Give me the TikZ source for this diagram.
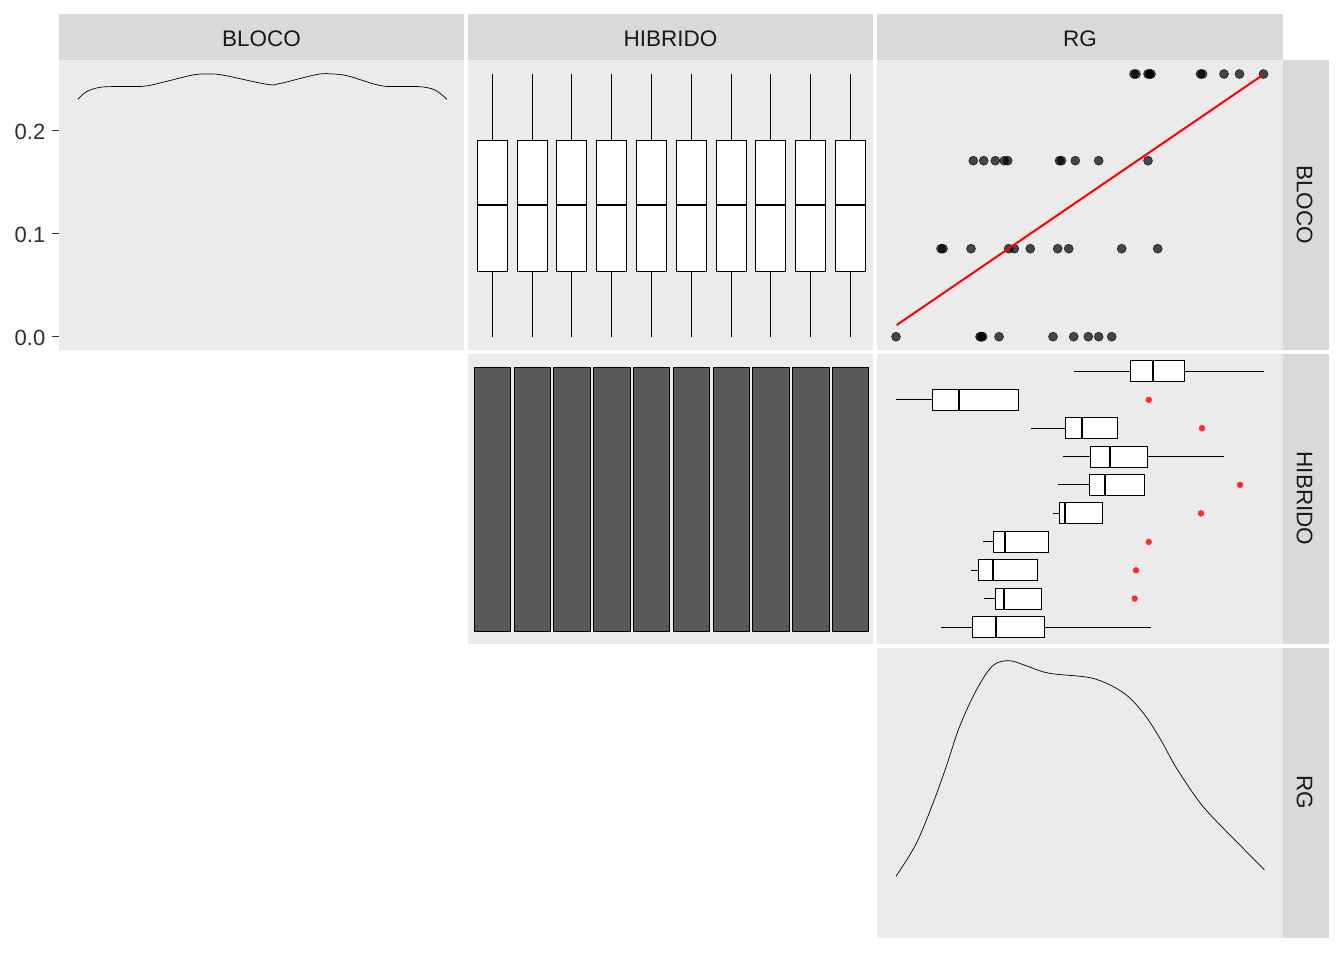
\documentclass[tikz,border=0pt]{standalone}
\usepackage{fontspec}
\setmainfont{Liberation Sans}
\definecolor{stripc}{HTML}{D9D9D9}
\definecolor{panelc}{HTML}{EBEBEB}
\definecolor{striptext}{HTML}{1A1A1A}
\definecolor{axistext}{HTML}{2E2E2E}
\definecolor{tickc}{HTML}{333333}
\definecolor{barc}{HTML}{595959}
\definecolor{outc}{HTML}{FF2A2A}
\begin{document}
\begin{tikzpicture}[x=1pt,y=-1pt,
  panelbg/.style={fill=panelc},
  stripbg/.style={fill=stripc},
  striplabel/.style={inner sep=0pt, text=striptext, font=\fontsize{22.5}{26}\selectfont},
  ticklabel/.style={inner sep=0pt, anchor=east, text=axistext, font=\fontsize{22}{26}\selectfont},
  tickmark/.style={draw=tickc, line width=1.3pt},
  boxline/.style={draw=black, line width=1.1pt},
  medline/.style={draw=black, line width=2.2pt},
  dens/.style={draw=black, line width=0.7pt},
  barbox/.style={fill=barc, draw=black, line width=1.1pt},
  dotpt/.style={fill=black, draw=black, fill opacity=0.7, draw opacity=0.7, line width=0.6pt},
  outpt/.style={fill=outc, draw=outc, line width=0.5pt}
]
\useasboundingbox (0,0) rectangle (1344,960);
\fill[white] (0,0) rectangle (1344,960);

% ---- panel backgrounds
\fill[panelbg] (59.3,60) rectangle (463.7,349.5);
\fill[panelbg] (468,60) rectangle (873.3,349.5);
\fill[panelbg] (877.3,60) rectangle (1283,349.5);
\fill[panelbg] (468,353.5) rectangle (873.3,643.5);
\fill[panelbg] (877.3,353.5) rectangle (1283,643.5);
\fill[panelbg] (877.3,647.5) rectangle (1283,937.5);

% ---- top strips
\fill[stripbg] (59.3,14) rectangle (463.7,60);
\fill[stripbg] (468,14) rectangle (873.3,60);
\fill[stripbg] (877.3,14) rectangle (1283,60);
\node[striplabel] (sBLOCO) at (261.5,38.3) {BLOCO};
\node[striplabel] (sHIBRIDO) at (670.6,38.3) {HIBRIDO};
\node[striplabel] (sRG) at (1080.1,38.3) {RG};

% ---- right strips
\fill[stripbg] (1283,60) rectangle (1329,349.5);
\fill[stripbg] (1283,353.5) rectangle (1329,643.5);
\fill[stripbg] (1283,647.5) rectangle (1329,937.5);
\node[striplabel, rotate=-90] (rBLOCO) at (1304.5,204.7) {BLOCO};
\node[striplabel, rotate=-90] (rHIBRIDO) at (1304.5,498.5) {HIBRIDO};
\node[striplabel, rotate=-90] (rRG) at (1304.5,792.5) {RG};

% ---- y axis (row 1)
\draw[tickmark] (52,130.7) -- (59.3,130.7);
\draw[tickmark] (52,233.7) -- (59.3,233.7);
\draw[tickmark] (52,336.7) -- (59.3,336.7);
\node[ticklabel] (y02) at (45.5,132) {0.2};
\node[ticklabel] (y01) at (45.5,235) {0.1};
\node[ticklabel] (y00) at (45.5,338) {0.0};

% ---- BLOCO density
\draw[dens] plot[smooth, tension=0.6] coordinates {
  (78,99.3) (86,92) (100,87.3) (120,86.5) (143,86.3) (160,83) (193,75) (210,74)
  (225,75.5) (267,84.3) (280,83.5) (317,74.5) (333,74) (348,76) (380,85.5)
  (400,86.5) (420,86.7) (435,90) (447,99.3)};

% ---- HIBRIDO boxplots (row 1, col 2)
\foreach \i in {0,...,9}{
  \pgfmathsetmacro{\cx}{492.3+39.8*\i}
  \draw[boxline] (\cx,74) -- (\cx,140.3);
  \draw[boxline] (\cx,271.3) -- (\cx,336.7);
  \draw[boxline, fill=white] (\cx-15,140.3) rectangle (\cx+15,271.3);
  \draw[medline] (\cx-15,204.7) -- (\cx+15,204.7);
}

% ---- HIBRIDO bars (row 2, col 2)
\foreach \i in {0,...,9}{
  \pgfmathsetmacro{\cx}{492.5+39.8*\i}
  \draw[barbox] (\cx-18.2,367.3) rectangle (\cx+18.2,631.3);
}

% ---- RG vs BLOCO scatter (row 1, col 3)
\foreach \px/\py in {
  1134/74, 1136/74, 1148/74, 1149.5/74, 1151/74, 1200.5/74, 1202.5/74, 1224/74, 1239.5/74, 1263.5/74,
  973.3/160.7, 983.7/160.7, 995.3/160.7, 1004.3/160.7, 1007.7/160.7, 1059.5/160.7, 1061.5/160.7, 1075.3/160.7, 1098.7/160.7, 1148/160.7,
  941/248.7, 943/248.7, 971/248.7, 1008.7/248.7, 1014.3/248.7, 1030.3/248.7, 1057.7/248.7, 1068.7/248.7, 1121.7/248.7, 1157.7/248.7,
  896/336.7, 980/336.7, 981.3/336.7, 982.6/336.7, 999/336.7, 1053/336.7, 1073.7/336.7, 1088.3/336.7, 1098.7/336.7, 1111.7/336.7}{
  \filldraw[dotpt] (\px,\py) circle (4.5);
}
\coordinate (fitA) at (896.7,325);
\coordinate (fitB) at (1262.7,75);
\draw[red, line width=2pt] (fitA) -- (fitB);

% ---- RG by HIBRIDO horizontal boxplots (row 2, col 3)
\foreach \wl/\qa/\md/\qb/\wr/\yc in {
  1074.3/1130.3/1152.7/1184.3/1263.7/371.3,
  896/932.3/958.7/1018.7/1018.7/399.8,
  1031/1065.3/1082/1117.3/1117.3/428.3,
  1063.3/1090.3/1110/1147.7/1223.7/456.6,
  1058/1089.3/1104.7/1144.3/1144.3/484.8,
  1053/1059.3/1065/1102.7/1102.7/513.4,
  983/993.3/1005/1048.7/1048.7/541.9,
  971/978.3/992.7/1037.7/1037.7/570.3,
  984/995.3/1003.7/1041.7/1041.7/598.6,
  941/972.3/996/1044.7/1151/627.3}{
  \draw[boxline] (\wl,\yc) -- (\qa,\yc);
  \draw[boxline] (\qb,\yc) -- (\wr,\yc);
  \draw[boxline, fill=white] (\qa,\yc-10.5) rectangle (\qb,\yc+10.5);
  \draw[medline] (\md,\yc-10.5) -- (\md,\yc+10.5);
}
\foreach \ox/\oy in {1148.7/399.8, 1202/428.3, 1240/484.8, 1201/513.4, 1148.7/541.9, 1136/570.3, 1134.7/598.6}{
  \filldraw[outpt] (\ox,\oy) circle (2.9);
}

% ---- RG density (row 3, col 3)
\draw[dens] plot[smooth, tension=0.55] coordinates {
  (896,876.3) (916,844) (932.7,804) (946,767.3) (959.3,727.3) (976,690.7)
  (992.7,665.7) (1009.3,660.7) (1026,665.7) (1049.3,673.3) (1092.7,678.3)
  (1122.7,692.3) (1142.7,712.3) (1159.3,737.3) (1176,767.3) (1196,797.3)
  (1212.7,817.3) (1264.3,869.7)};
\end{tikzpicture}
\end{document}
